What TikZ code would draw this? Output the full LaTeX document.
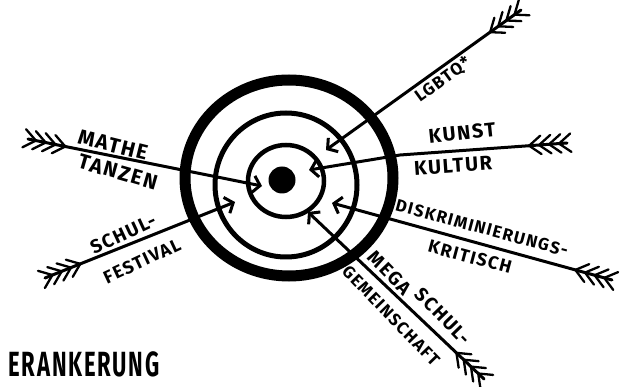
\documentclass[tikz,border=0pt]{standalone}
\usepackage{fontspec}
\setmainfont{Fira Sans}[LetterSpace=8]
\usetikzlibrary{arrows.meta,calc}
\newcommand\fletch[2]{%
  \foreach \d in {8,18,28,38} {
    \path ($(#1)!\d pt!(#2)$) coordinate (fp);
    \draw[feather] (fp) -- ($(fp)!15pt!38:(#1)$);
    \draw[feather] (fp) -- ($(fp)!15pt!-38:(#1)$);
  }}
\begin{document}
\begin{tikzpicture}[x=1pt,y=-1pt,
  shaft/.style={line width=3pt, line cap=round, line join=round,
    -{Straight Barb[length=7pt,width=17pt]}},
  feather/.style={line width=2.3pt, line cap=round},
  lbl/.style={font=\bfseries\fontsize{#1}{#1}\selectfont, inner sep=0pt},
  lbl/.default=17,
  big/.style={font=\bfseries\fontsize{35}{35}\selectfont, inner sep=0pt}]
\useasboundingbox (0,0) rectangle (632,387);
% target
\coordinate (cOuter) at (289,178);
\coordinate (cMid) at (286,185);
\coordinate (cIn) at (286,181);
\coordinate (cDot) at (282,180);
\draw[line width=11pt] (cOuter) ellipse [x radius=104pt, y radius=98pt];
\draw[line width=5pt] (cMid) ellipse [x radius=71pt, y radius=72pt];
\draw[line width=4.5pt] (cIn) ellipse [x radius=38pt, y radius=36pt];
\fill (cDot) circle [radius=13.5pt];
% arrows
\coordinate (t1) at (521,10);  \coordinate (h1) at (326,150);
\coordinate (t2) at (567,143); \coordinate (h2) at (309,170);
\coordinate (b2) at (400,155);
\coordinate (t3) at (612,280); \coordinate (h3) at (332,203);
\coordinate (t4) at (484,379); \coordinate (h4) at (308,212);
\coordinate (t5) at (28,139);  \coordinate (h5) at (262,186);
\coordinate (t6) at (45,278);  \coordinate (h6) at (235,202);
\foreach \i in {1,3,4,5,6} {
  \draw[shaft] (t\i) -- (h\i);
  \fletch{t\i}{h\i}
}
\draw[shaft] (t2) -- (b2) -- (h2);
\fletch{t2}{b2}
% labels
\node[lbl=17, rotate=36] (lgbtq) at (443,80) {LGBTQ*};
\node[lbl=20, rotate=6] (kunst) at (462,133) {KUNST};
\node[lbl=20, rotate=4] (kultur) at (453,166) {KULTUR};
\node[lbl=17, rotate=-15] (diskr) at (482,228) {DISKRIMINIERUNGS-};
\node[lbl=18, rotate=-15] (krit) at (470,257) {KRITISCH};
\node[lbl=19, rotate=-46] (mega) at (390,273) {MEGA};
\node[lbl=19, rotate=-46] (schulb) at (443,316) {SCHUL-};
\node[lbl=17, rotate=-46] (gem) at (391,316) {GEMEINSCHAFT};
\node[lbl=21, rotate=-14] (mathe) at (113,145) {MATHE};
\node[lbl=21, rotate=-16] (tanzen) at (118,172) {TANZEN};
\node[lbl=19, rotate=25] (schula) at (123,234) {SCHUL-};
\node[lbl=18, rotate=25] (fest) at (142,261) {FESTIVAL};
\node[big] (veran) at (84,364) {\scalebox{0.63}[1]{ERANKERUNG}};
\end{tikzpicture}
\end{document}
